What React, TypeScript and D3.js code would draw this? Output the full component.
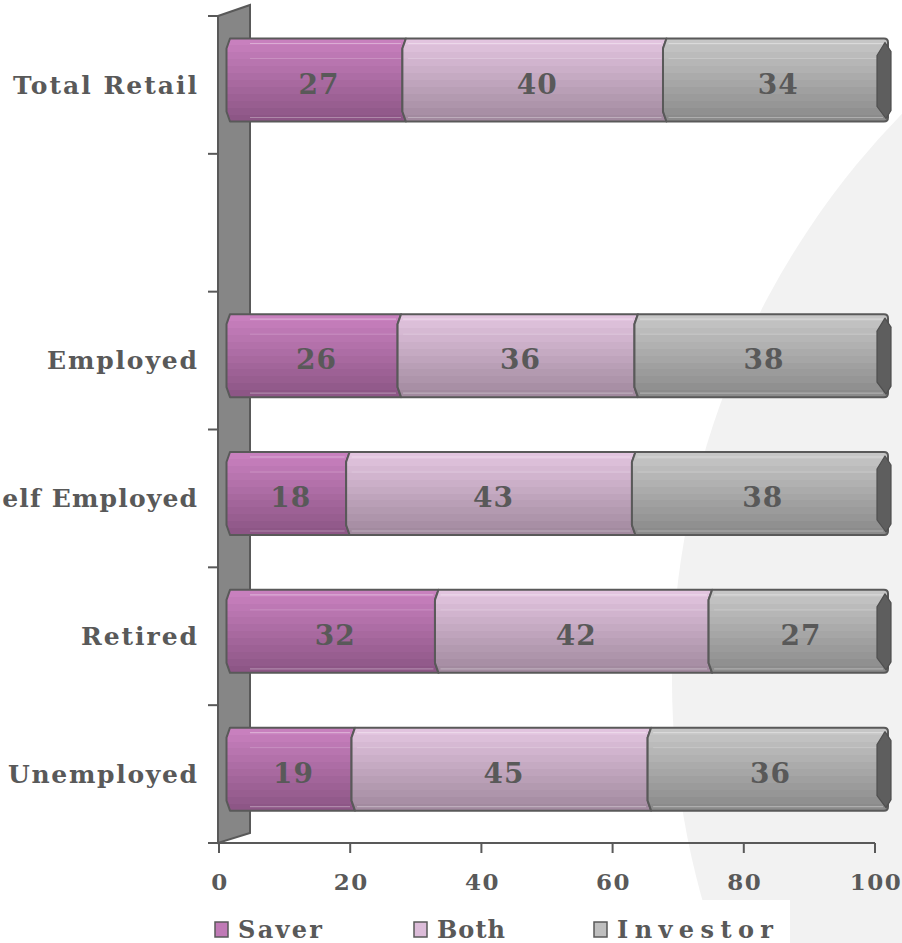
import React from "react";
import * as d3 from "d3";

// Chart data
const categories = ["Total Retail", "", "Employed", "Self Employed", "Retired", "Unemployed"];
const saver = [27, null, 26, 18, 32, 19];
const both = [40, null, 36, 43, 42, 45];
const investor = [34, null, 38, 38, 27, 36];
const seriesNames = ["Saver", "Both", "Investor"];
const xTicks = [0, 20, 40, 60, 80, 100];

// Styling
const W = 902;
const H = 943;
const FONT = "'DejaVu Serif', Georgia, serif";
const INK = "#595959";
const EDGE = "#595959";
const shades: Record<string, [string, string]> = {
  Saver: ["#c880be", "#8d5686"],
  Both: ["#e2c4df", "#a28a9f"],
  Investor: ["#c6c6c6", "#8b8b8b"],
};
const legendSwatch: Record<string, string> = {
  Saver: "#c07ab6",
  Both: "#dcbcd9",
  Investor: "#bfbfbf",
};
const catLabelWidth: Record<string, number> = {
  "Total Retail": 184,
  Employed: 150,
  "Self Employed": 214,
  Retired: 116,
  Unemployed: 189,
};
const legendTextWidth: Record<string, number> = { Saver: 84, Both: 68, Investor: 156 };
const legendX: Record<string, number> = { Saver: 215, Both: 414, Investor: 594 };

const rows = categories.map((c, i) => ({
  category: c,
  Saver: saver[i],
  Both: both[i],
  Investor: investor[i],
}));
const filled = rows.filter((r) => r.Saver != null);

const stacked = d3
  .stack<any>()
  .keys(seriesNames)
  .value((d, k) => d[k] as number)
  .offset(d3.stackOffsetExpand)(filled);

const yBand = d3.scaleBand<string>().domain(categories).range([16, 843]).paddingInner(0);
const xBar = d3.scaleLinear().domain([0, 1]).range([230, 888]);
const xAxis = d3.scaleLinear().domain([0, 100]).range([219, 875]);

const BAR_OFF = 22.5;
const BAR_H = 83;
const BULGE = 3.5;
const CURVE = 10;

function segmentPath(x0: number, x1: number, t: number, b: number, last: boolean) {
  const p = d3.path();
  p.moveTo(x0, t);
  if (last) {
    p.lineTo(x1 - 4, t);
    p.quadraticCurveTo(x1, t, x1, t + 4);
    p.lineTo(x1, b - 4);
    p.quadraticCurveTo(x1, b, x1 - 4, b);
  } else {
    p.lineTo(x1, t);
    p.lineTo(x1 - BULGE, t + CURVE);
    p.lineTo(x1 - BULGE, b - CURVE);
    p.lineTo(x1, b);
  }
  p.lineTo(x0, b);
  p.lineTo(x0 - BULGE, b - CURVE);
  p.lineTo(x0 - BULGE, t + CURVE);
  p.closePath();
  return p.toString();
}

function capPath(xe: number, t: number, b: number) {
  const p = d3.path();
  p.moveTo(xe - 3, t + 4);
  p.lineTo(xe - 11, t + 17);
  p.lineTo(xe - 11, b - 15);
  p.lineTo(xe - 2, b - 3);
  p.lineTo(xe + 3, b - 11);
  p.lineTo(xe + 3, t + 13);
  p.closePath();
  return p.toString();
}

function StripeGradient({ id, top, bottom }: { id: string; top: string; bottom: string }) {
  const n = 12;
  const interp = d3.interpolateRgb(top, bottom);
  const stops: React.ReactNode[] = [];
  for (let k = 0; k < n; k++) {
    const c = interp(k / (n - 1));
    stops.push(<stop key={`a${k}`} offset={k / n} stopColor={c} />);
    stops.push(<stop key={`b${k}`} offset={(k + 1) / n} stopColor={c} />);
  }
  return (
    <linearGradient id={id} x1="0" y1="0" x2="0" y2="1">
      {stops}
    </linearGradient>
  );
}

export default function App() {
  const last = seriesNames.length - 1;
  return (
    <svg
      width={W}
      height={H}
      viewBox={`0 0 ${W} ${H}`}
      style={{ position: "absolute", left: 0, top: 0, background: "#fff" }}
      fontFamily={FONT}
    >
      <defs>
        {seriesNames.map((s) => (
          <StripeGradient key={s} id={`grad-${s}`} top={shades[s][0]} bottom={shades[s][1]} />
        ))}
      </defs>

      {/* background decoration */}
      <rect x={0} y={0} width={W} height={H} fill="#ffffff" />
      <circle cx={1484} cy={680} r={812} fill="#f2f2f2" />
      <rect x={0} y={900} width={790} height={H - 900} fill="#ffffff" />

      {/* back wall */}
      <path d="M218,16 L250,5 L250,833 L218,843 Z" fill="#868686" stroke={EDGE} strokeWidth={2} />

      {/* category ticks */}
      {categories.map((c) => (
        <line
          key={`t-${c}`}
          x1={208}
          x2={218}
          y1={yBand(c)!}
          y2={yBand(c)!}
          stroke={EDGE}
          strokeWidth={2}
        />
      ))}

      {/* x axis */}
      <line x1={208} x2={xAxis(100)} y1={843} y2={843} stroke={EDGE} strokeWidth={2} />
      {xTicks.map((v) => (
        <g key={`xt-${v}`}>
          <line x1={xAxis(v)} x2={xAxis(v)} y1={843} y2={853} stroke={EDGE} strokeWidth={2} />
          <text
            x={xAxis(v) + 1}
            y={890}
            textAnchor="middle"
            fontSize={23}
            fontWeight="bold"
            fill={INK}
            letterSpacing={1.5}
          >
            {v}
          </text>
        </g>
      ))}

      {/* bars */}
      {stacked.map((layer, si) =>
        layer.map((d) => {
          const cat = d.data.category as string;
          const t = yBand(cat)! + BAR_OFF;
          const b = t + BAR_H;
          const x0 = xBar(d[0]);
          const x1 = xBar(d[1]);
          const isLast = si === last;
          const hlStart = Math.max(x0 + 2, 250);
          return (
            <g key={`${layer.key}-${cat}`}>
              <path
                d={segmentPath(x0, x1, t, b, isLast)}
                fill={`url(#grad-${layer.key})`}
                stroke={EDGE}
                strokeWidth={2}
                strokeLinejoin="round"
              />
              <line x1={hlStart} x2={x1 - 5} y1={t + 5} y2={t + 5} stroke="#ffffff" strokeOpacity={0.35} strokeWidth={1.2} />
              <line x1={hlStart} x2={x1 - 5} y1={t + 20} y2={t + 20} stroke="#ffffff" strokeOpacity={0.18} strokeWidth={1} />
              <line x1={hlStart} x2={x1 - 5} y1={b - 4} y2={b - 4} stroke="#ffffff" strokeOpacity={0.3} strokeWidth={1.2} />
              {isLast && (
                <path d={capPath(x1, t, b)} fill="#5e5e5e" stroke="#4f4f4f" strokeWidth={1.2} strokeLinejoin="round" />
              )}
            </g>
          );
        })
      )}

      {/* value labels */}
      {stacked.map((layer) =>
        layer.map((d) => {
          const cat = d.data.category as string;
          const t = yBand(cat)! + BAR_OFF;
          const xm = (xBar(d[0]) + xBar(d[1])) / 2;
          return (
            <text
              key={`v-${layer.key}-${cat}`}
              x={xm + 1}
              y={t + 55}
              textAnchor="middle"
              fontSize={28}
              fontWeight="bold"
              fill={INK}
              letterSpacing={1}
            >
              {d.data[layer.key as string]}
            </text>
          );
        })
      )}

      {/* category labels */}
      {categories
        .filter((c) => c !== "")
        .map((c) => (
          <text
            key={`c-${c}`}
            x={197}
            y={yBand(c)! + BAR_OFF + 55}
            textAnchor="end"
            fontSize={25}
            fontWeight="bold"
            fill={INK}
            textLength={catLabelWidth[c]}
            lengthAdjust="spacing"
          >
            {c}
          </text>
        ))}

      {/* legend */}
      {seriesNames.map((s) => (
        <g key={`lg-${s}`}>
          <rect x={legendX[s]} y={922} width={13} height={15} fill={legendSwatch[s]} stroke={EDGE} strokeWidth={1.5} />
          <text
            x={legendX[s] + 23}
            y={938}
            fontSize={24}
            fontWeight="bold"
            fill={INK}
            textLength={legendTextWidth[s]}
            lengthAdjust="spacing"
          >
            {s}
          </text>
        </g>
      ))}
    </svg>
  );
}
